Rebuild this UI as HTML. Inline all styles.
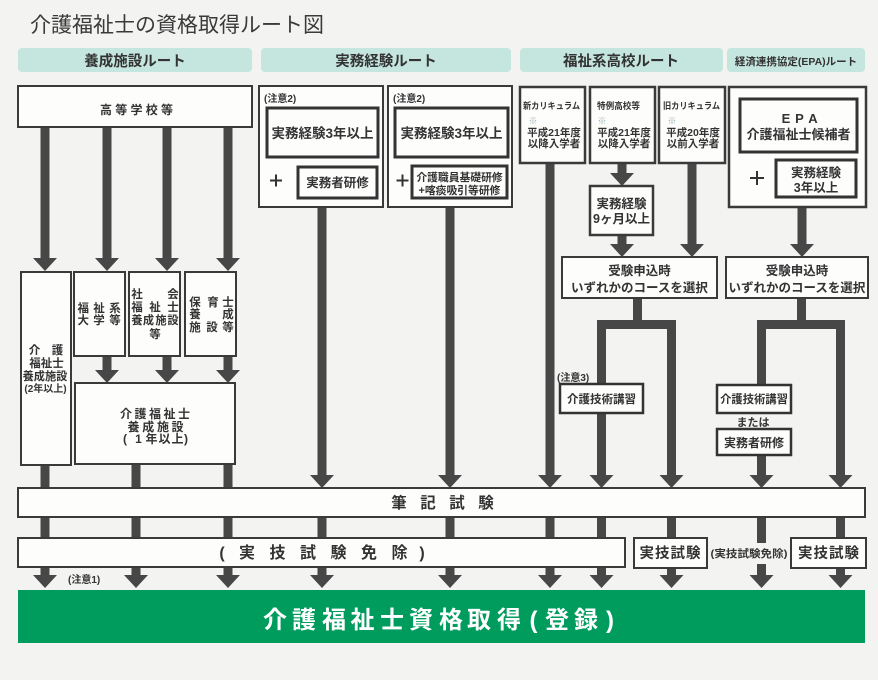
<!DOCTYPE html>
<html><head><meta charset="utf-8"><style>
html,body{margin:0;padding:0;background:#f3f3f1;}
svg{display:block;}
</style></head><body>
<svg width="878" height="680" viewBox="0 0 878 680" xmlns="http://www.w3.org/2000/svg" font-family="'Liberation Sans','Noto Sans CJK JP',sans-serif">
<rect x="0" y="0" width="878" height="680" fill="#f3f3f1"/>

<!-- title -->
<text x="30" y="32" font-size="21" fill="#3a3a3a">介護福祉士の資格取得ルート図</text>

<!-- headers -->
<g fill="#c5e6de">
<rect x="18" y="48" width="234" height="24" rx="4"/>
<rect x="261" y="48" width="250" height="24" rx="4"/>
<rect x="520" y="48" width="203" height="24" rx="4"/>
<rect x="727" y="48" width="138" height="24" rx="4"/>
</g>
<g fill="#333" font-weight="bold" text-anchor="middle">
<text x="135" y="66" font-size="14.5">養成施設ルート</text>
<text x="386" y="66" font-size="14.5">実務経験ルート</text>
<text x="621" y="66" font-size="14.5">福祉系高校ルート</text>
<text x="796" y="65" font-size="10.5">経済連携協定(EPA)ルート</text>
</g>

<!-- arrows -->
<g fill="#474747">
<rect x="40.5" y="127" width="9" height="132"/><polygon points="33,258 57,258 45,271"/>
<rect x="102.5" y="127" width="9" height="132"/><polygon points="95,258 119,258 107,271"/>
<rect x="162.5" y="127" width="9" height="132"/><polygon points="155,258 179,258 167,271"/>
<rect x="223.5" y="127" width="9" height="132"/><polygon points="216,258 240,258 228,271"/>

<rect x="102.5" y="356" width="9" height="15"/><polygon points="95,370 119,370 107,383"/>
<rect x="162.5" y="356" width="9" height="15"/><polygon points="155,370 179,370 167,383"/>
<rect x="223.5" y="356" width="9" height="15"/><polygon points="216,370 240,370 228,383"/>

<rect x="40.5" y="465" width="9" height="23"/>
<rect x="131.5" y="464" width="9" height="24"/>
<rect x="223.5" y="464" width="9" height="24"/>

<rect x="317.5" y="207" width="9" height="269"/><polygon points="310,475 334,475 322,488"/>
<rect x="445.5" y="207" width="9" height="269"/><polygon points="438,475 462,475 450,488"/>
<rect x="545.5" y="163" width="9" height="313"/><polygon points="538,475 562,475 550,488"/>

<rect x="617.5" y="163" width="9" height="11"/><polygon points="610,173 634,173 622,186"/>
<rect x="617.5" y="235" width="9" height="10"/><polygon points="610,244 634,244 622,257"/>
<rect x="687.5" y="163" width="9" height="82"/><polygon points="680,244 704,244 692,257"/>
<rect x="797.5" y="207" width="9" height="38"/><polygon points="790,244 814,244 802,257"/>

<!-- fork 1 -->
<rect x="633" y="298" width="9" height="27"/>
<rect x="597" y="320" width="79" height="9"/>
<rect x="597" y="320" width="9" height="64"/>
<rect x="597" y="413" width="9" height="63"/><polygon points="589.5,475 613.5,475 601.5,488"/>
<rect x="667" y="320" width="9" height="156"/><polygon points="659.5,475 683.5,475 671.5,488"/>

<!-- fork 2 -->
<rect x="797" y="298" width="9" height="27"/>
<rect x="757" y="320" width="88" height="9"/>
<rect x="757" y="320" width="9" height="65"/>
<rect x="757" y="455" width="9" height="21"/><polygon points="749.5,475 773.5,475 761.5,488"/>
<rect x="836" y="320" width="9" height="156"/><polygon points="828.5,475 852.5,475 840.5,488"/>

<!-- between bars -->
<rect x="40.5" y="517" width="9" height="21"/>
<rect x="131.5" y="517" width="9" height="21"/>
<rect x="223.5" y="517" width="9" height="21"/>
<rect x="317.5" y="517" width="9" height="21"/>
<rect x="445.5" y="517" width="9" height="21"/>
<rect x="545.5" y="517" width="9" height="21"/>
<rect x="597" y="517" width="9" height="21"/>
<rect x="667" y="517" width="9" height="21"/>
<rect x="757" y="517" width="9" height="26"/>
<rect x="836" y="517" width="9" height="21"/>

<!-- final arrows -->
<rect x="40.5" y="567" width="9" height="9"/><polygon points="33,575 57,575 45,588"/>
<rect x="131.5" y="567" width="9" height="9"/><polygon points="124,575 148,575 136,588"/>
<rect x="223.5" y="567" width="9" height="9"/><polygon points="216,575 240,575 228,588"/>
<rect x="317.5" y="567" width="9" height="9"/><polygon points="310,575 334,575 322,588"/>
<rect x="445.5" y="567" width="9" height="9"/><polygon points="438,575 462,575 450,588"/>
<rect x="545.5" y="567" width="9" height="9"/><polygon points="538,575 562,575 550,588"/>
<rect x="597" y="567" width="9" height="9"/><polygon points="589.5,575 613.5,575 601.5,588"/>
<rect x="667" y="568" width="9" height="8"/><polygon points="659.5,575 683.5,575 671.5,588"/>
<rect x="757" y="564" width="9" height="12"/><polygon points="749.5,575 773.5,575 761.5,588"/>
<rect x="836" y="568" width="9" height="8"/><polygon points="828.5,575 852.5,575 840.5,588"/>
</g>

<!-- boxes -->
<g fill="#fdfdfc" stroke="#3a3a3a" stroke-width="2">
<rect x="18" y="86" width="234" height="41"/>
<rect x="21" y="272" width="50" height="193"/>
<rect x="74" y="272" width="51" height="84"/>
<rect x="129" y="272" width="51" height="84"/>
<rect x="185" y="272" width="51" height="84"/>
<rect x="75" y="383" width="160" height="81"/>

<rect x="259" y="86" width="124" height="121"/>
<rect x="388" y="86" width="124" height="121"/>

<rect x="520" y="87" width="65" height="76" stroke-width="2.5"/>
<rect x="590" y="87" width="65" height="76" stroke-width="2.5"/>
<rect x="659" y="87" width="66" height="76" stroke-width="2.5"/>
<rect x="590" y="186" width="63" height="49" stroke-width="2.5"/>

<rect x="729" y="87" width="137" height="120" stroke-width="2.5"/>

<rect x="562" y="257" width="155" height="41"/>
<rect x="726" y="257" width="142" height="41"/>

<rect x="18" y="488" width="847" height="29"/>
<rect x="18" y="538" width="607" height="29"/>
<rect x="634" y="538" width="73" height="30"/>
<rect x="791" y="538" width="75" height="30"/>
</g>
<g fill="#fdfdfc" stroke="#333" stroke-width="3">
<rect x="267" y="108" width="111" height="49"/>
<rect x="298" y="167" width="79" height="31"/>
<rect x="395" y="108" width="113" height="49"/>
<rect x="412" y="166" width="95" height="32"/>
<rect x="740" y="99" width="117" height="53"/>
<rect x="776" y="160" width="80" height="37"/>
<rect x="560" y="384" width="83" height="29" stroke-width="2.5"/>
<rect x="717" y="385" width="74" height="28" stroke-width="2.5"/>
<rect x="717" y="429" width="74" height="26" stroke-width="2.5"/>
</g>

<!-- plus signs -->
<g stroke="#333" stroke-width="2">
<line x1="270" y1="180.5" x2="282" y2="180.5"/><line x1="276" y1="174.5" x2="276" y2="186.5"/>
<line x1="396.5" y1="180.5" x2="408.5" y2="180.5"/><line x1="402.5" y1="174.5" x2="402.5" y2="186.5"/>
<line x1="750" y1="178" x2="764" y2="178"/><line x1="757" y1="171" x2="757" y2="185"/>
</g>

<!-- green bar -->
<rect x="18" y="590" width="847" height="53" fill="#009c5e"/>
<text x="275 304 334 362.5 392 421 451 479 509 533.5 557 586 610" y="628" font-size="24" font-weight="bold" fill="#ffffff" text-anchor="middle">介護福祉士資格取得(登録)</text>

<!-- texts -->
<g fill="#333" font-weight="bold" text-anchor="middle">
<text x="106 121.3 136.5 151.8 167" y="114" font-size="12">高等学校等</text>

<text x="34.5 57.5" y="354" font-size="11.5">介護</text>
<text x="46.5" y="367" font-size="11.5">福祉士</text>
<text x="45" y="380" font-size="11.2">養成施設</text>
<text x="45.5" y="392" font-size="10">(2年以上)</text>

<text x="83.3 99 115" y="312" font-size="11.5">福祉系</text>
<text x="83.3 99 115" y="324" font-size="11.5">大学等</text>

<text x="137 173" y="298" font-size="11.5">社会</text>
<text x="137 155 173" y="311" font-size="11.5">福祉士</text>
<text x="137 148.5 161 173" y="324" font-size="11.2">養成施設</text>
<text x="155" y="338" font-size="11.5">等</text>

<text x="195 213 228" y="306" font-size="11.5">保育士</text>
<text x="195 228" y="318" font-size="11.5">養成</text>
<text x="195 212 228" y="331" font-size="11.5">施設等</text>

<text x="126 140.5 155 169.5 184" y="418" font-size="12">介護福祉士</text>
<text x="133.5 148.3 163 177.5" y="431" font-size="12">養成施設</text>
<text x="125 138.5 151.5 164.5 177.5 186" y="443" font-size="12">(1年以上)</text>

<text x="322.5" y="138" font-size="13.5">実務経験3年以上</text>
<text x="337.5" y="187" font-size="12.5">実務者研修</text>
<text x="451.5" y="138" font-size="13.5">実務経験3年以上</text>
<text x="459.5" y="181" font-size="10.8">介護職員基礎研修</text>
<text x="459.5" y="194" font-size="10.8">+喀痰吸引等研修</text>

<text x="554" y="136" font-size="10.5">平成21年度</text>
<text x="554" y="147" font-size="10.5">以降入学者</text>
<text x="624" y="136" font-size="10.5">平成21年度</text>
<text x="624" y="147" font-size="10.5">以降入学者</text>
<text x="693" y="136" font-size="10.5">平成20年度</text>
<text x="693" y="147" font-size="10.5">以前入学者</text>

<text x="621.5" y="208" font-size="12.5">実務経験</text>
<text x="621.5" y="223" font-size="12.5">9ヶ月以上</text>

<text x="786 799.5 813" y="123" font-size="13">EPA</text>
<text x="798.5" y="139" font-size="13">介護福祉士候補者</text>
<text x="816" y="177" font-size="12.5">実務経験</text>
<text x="816" y="192" font-size="12.5">3年以上</text>

<text x="639.5" y="275" font-size="12.5">受験申込時</text>
<text x="639.5" y="292" font-size="12.5">いずれかのコースを選択</text>
<text x="797" y="275" font-size="12.5">受験申込時</text>
<text x="797" y="292" font-size="12.5">いずれかのコースを選択</text>

<text x="601.5" y="403" font-size="11.5">介護技術講習</text>
<text x="754" y="403" font-size="11.3">介護技術講習</text>
<text x="753" y="426" font-size="11">または</text>
<text x="754" y="447" font-size="12">実務者研修</text>

<text x="399 428 457 486" y="508" font-size="15.5">筆記試験</text>
<text x="222 247 277.5 308 338.5 369 399.5 422" y="558" font-size="16">(実技試験免除)</text>
<text x="670.5" y="558" font-size="14.5" letter-spacing="1">実技試験</text>
<text x="829" y="558" font-size="14.5" letter-spacing="1">実技試験</text>
<text x="749" y="557" font-size="10.5" textLength="77" lengthAdjust="spacingAndGlyphs">(実技試験免除)</text>
</g>

<g fill="#333" font-weight="bold" text-anchor="start">
<text x="264" y="102" font-size="10">(注意2)</text>
<text x="393" y="102" font-size="10">(注意2)</text>
<text x="557" y="381" font-size="10">(注意3)</text>
<text x="68" y="583" font-size="10">(注意1)</text>
<text x="523" y="109" font-size="9" textLength="57" lengthAdjust="spacingAndGlyphs">新カリキュラム</text>
<text x="597" y="109" font-size="9" textLength="43" lengthAdjust="spacingAndGlyphs">特例高校等</text>
<text x="663" y="109" font-size="9" textLength="57" lengthAdjust="spacingAndGlyphs">旧カリキュラム</text>
</g>
<g fill="#9fb3b8" font-size="9" text-anchor="middle">
<text x="533" y="124">※</text>
<text x="602" y="124">※</text>
<text x="672" y="124">※</text>
</g>
</svg>
</body></html>
